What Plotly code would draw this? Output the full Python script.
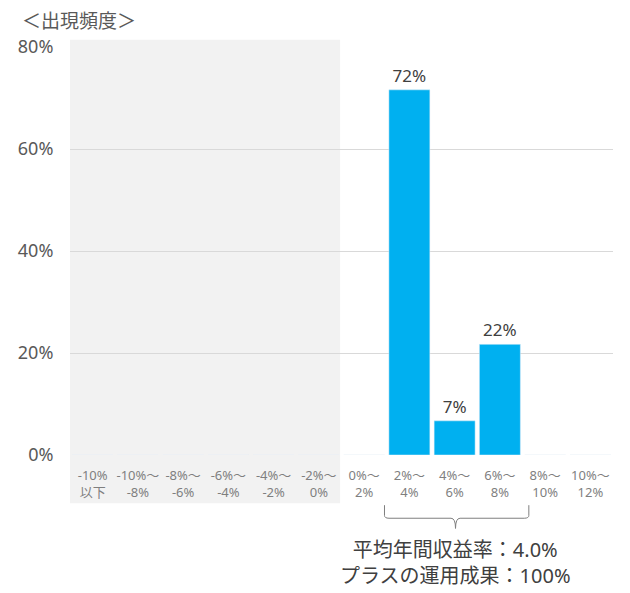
import plotly.graph_objects as go

# categories and frequencies (%)
categories = ["-10%<br>以下", "-10%～<br>-8%", "-8%～<br>-6%", "-6%～<br>-4%",
              "-4%～<br>-2%", "-2%～<br>0%", "0%～<br>2%", "2%～<br>4%",
              "4%～<br>6%", "6%～<br>8%", "8%～<br>10%", "10%～<br>12%"]
freq = [0, 0, 0, 0, 0, 0, 0, 71.6, 6.7, 21.7, 0, 0]
bar_labels = ["", "", "", "", "", "", "", "72%", "7%", "22%", "", ""]
y_ticks = [0, 20, 40, 60, 80]
y_tick_text = ["0%", "20%", "40%", "60%", "80%"]

FONT = "Noto Sans, Noto Sans CJK JP"

fig = go.Figure()
fig.add_trace(go.Bar(
    x=list(range(len(categories))),
    y=freq,
    marker_color="#00b0f0",
    text=bar_labels,
    textposition="outside",
    textfont=dict(size=17, color="#404040", family=FONT),
    cliponaxis=False,
))

# gray band behind negative returns
fig.add_shape(type="rect", xref="x", yref="paper", x0=-0.63, x1=5.47, y0=-0.118, y1=1.018,
              fillcolor="#f2f2f2", line_width=0, layer="below")

# bracket under the positive bars
fig.add_shape(type="path", xref="x", yref="paper",
              path="M 6.45,-0.123 L 6.45,-0.148 Q 6.45,-0.155 6.55,-0.155 "
                   "L 7.92,-0.155 Q 8.02,-0.155 8.02,-0.18 "
                   "Q 8.02,-0.155 8.12,-0.155 "
                   "L 9.54,-0.155 Q 9.64,-0.155 9.64,-0.148 L 9.64,-0.123",
              line=dict(color="#7f7f7f", width=1))

fig.add_annotation(x=8.02, y=-0.2635, xref="x", yref="paper",
                   text="平均年間収益率：4.0%<br>プラスの運用成果：100%",
                   showarrow=False, yanchor="middle",
                   font=dict(size=20, color="#404040", family=FONT))

# page body adds an 8px offset, so the figure is 8px smaller
fig.update_layout(
    width=622, height=585,
    margin=dict(l=62, r=17, t=39, b=138),
    plot_bgcolor="rgba(0,0,0,0)",
    paper_bgcolor="white",
    showlegend=False,
    bargap=0.094,
    title=dict(text="＜出現頻度＞", x=0.0225, xanchor="left", y=0.977, yanchor="middle",
               font=dict(size=19, color="#595959", family=FONT)),
    font=dict(family=FONT),
)

fig.update_xaxes(
    tickmode="array", tickvals=list(range(len(categories))), ticktext=categories,
    range=[-0.5, 11.5], showgrid=False, zeroline=False, showline=False,
    ticks="outside", ticklen=8, tickcolor="rgba(0,0,0,0)",
    tickfont=dict(size=13, color="#7f7f7f", family=FONT), automargin=False,
)
fig.update_yaxes(
    range=[0, 80], tickvals=y_ticks, ticktext=y_tick_text,
    showgrid=True, gridcolor="#d9d9d9", gridwidth=1, zeroline=False,
    ticks="outside", ticklen=12, tickcolor="rgba(0,0,0,0)",
    tickfont=dict(size=18, color="#595959", family=FONT), automargin=False,
)

fig.write_html("out.html")
